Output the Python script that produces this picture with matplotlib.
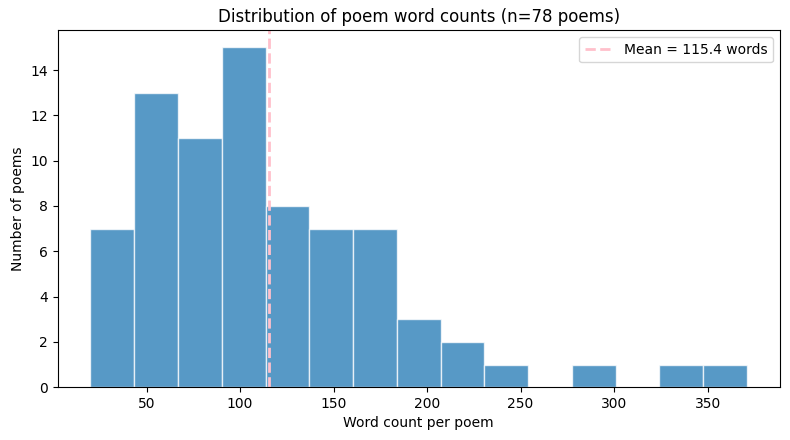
import numpy as np
from matplotlib import pyplot as plt

# histogram: 15 equal bins from 20 to 371 words
bin_edges = np.linspace(20, 371, 16)
counts = [7, 13, 11, 15, 8, 7, 7, 3, 2, 1, 0, 1, 0, 1, 1]
mean_words = 115.4
n_poems = 78


def main():
  fig, ax = plt.subplots(figsize=(7.9, 4.4), dpi=100)
  ax.hist(bin_edges[:-1], bins=bin_edges, weights=counts,
          color='#1f77b4', alpha=0.75, edgecolor='white')
  ax.axvline(mean_words, color='pink', linestyle='--', linewidth=2,
             label=f'Mean = {mean_words:.1f} words')
  ax.set_xlabel('Word count per poem')
  ax.set_ylabel('Number of poems')
  ax.set_title(f'Distribution of poem word counts (n={n_poems} poems)')
  ax.legend(loc='upper right')
  fig.subplots_adjust(left=0.073, right=0.987, top=0.931, bottom=0.12)
  fig.savefig('out.png')


if __name__ == "__main__":
  main()
